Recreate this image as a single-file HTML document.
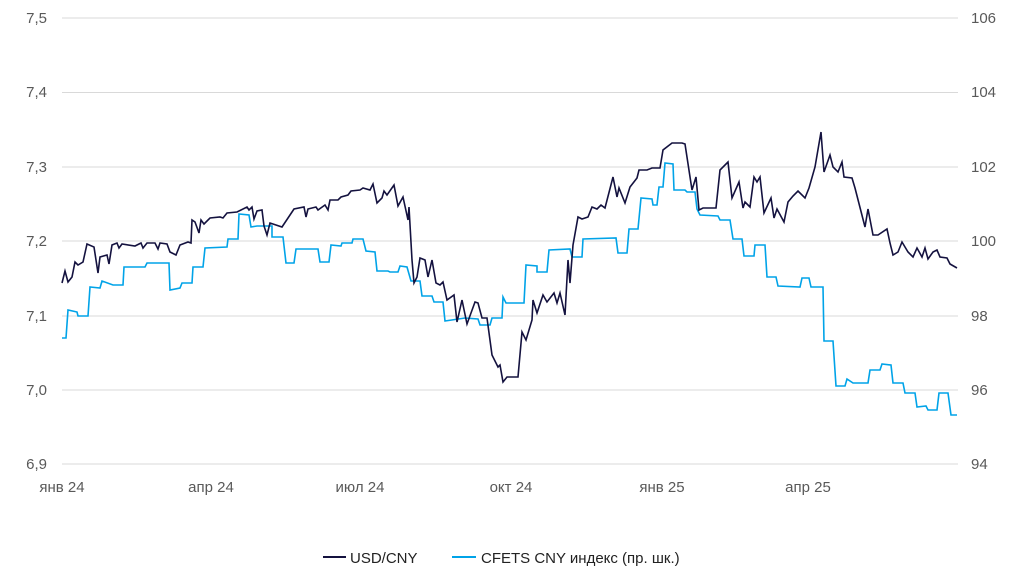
<!DOCTYPE html>
<html><head><meta charset="utf-8"><style>
body{margin:0;background:#fff;}
svg{display:block;font-family:"Liberation Sans",sans-serif;}
</style></head><body>
<svg width="1024" height="579" viewBox="0 0 1024 579">
<g stroke="#d9d9d9" stroke-width="1">
<line x1="62" x2="958" y1="18" y2="18"/><line x1="62" x2="958" y1="92.5" y2="92.5"/>
<line x1="62" x2="958" y1="167" y2="167"/><line x1="62" x2="958" y1="241" y2="241"/>
<line x1="62" x2="958" y1="316" y2="316"/><line x1="62" x2="958" y1="390" y2="390"/>
<line x1="62" x2="958" y1="464" y2="464"/>
</g>
<g fill="#595959" font-size="15">
<g text-anchor="end">
<text x="47" y="23">7,5</text><text x="47" y="97">7,4</text><text x="47" y="172">7,3</text>
<text x="47" y="246">7,2</text><text x="47" y="321">7,1</text><text x="47" y="395">7,0</text><text x="47" y="469">6,9</text>
</g>
<text x="971" y="23">106</text><text x="971" y="97">104</text><text x="971" y="172">102</text>
<text x="971" y="246">100</text><text x="971" y="321">98</text><text x="971" y="395">96</text><text x="971" y="469">94</text>
<g text-anchor="middle">
<text x="62" y="492">янв 24</text><text x="211" y="492">апр 24</text><text x="360" y="492">июл 24</text>
<text x="511" y="492">окт 24</text><text x="662" y="492">янв 25</text><text x="808" y="492">апр 25</text>
</g>
</g>
<polyline fill="none" stroke="#00a3e8" stroke-width="1.6" points="62,338 66,338 68,310 77,312 78,316 88,316 90,287 100,288 102,281 113,285 123,285 124,267 145,267 147,263 169,263 170,290 180,288 182,283 192,283 193,267 203,267 205,248 227,247 228,239 238,239 239,214 249,215 251,227 257,226 272,226 272,237 283,237 286,263 294,263 296,249 318,249 320,262 329,262 331,245 341,246 342,243 352,243 353,239 363,239 366,251 375,252 377,271 388,271 390,272 398,272 400,266 407,267 411,281 420,281 422,296 432,296 434,302 443,302 445,321 465,318 478,319 480,325 490,325 492,318 502,318 503,297 506,303 524,303 526,265 537,266 537,272 547,272 549,250 570,249 572,257 582,257 583,239 616,238 618,253 627,253 629,229 638,229 641,198 652,199 653,205 657,205 659,187 663,187 665,163 673,164 674,190 685,190 687,192 695,192 697,209 700,215 718,216 720,220 730,220 733,239 742,239 744,256 754,256 755,245 765,245 767,277 776,277 778,286 800,287 802,278 809,278 811,287 823,287 824,341 833,341 836,386 845,386 847,379 853,383 868,383 870,370 880,370 882,364 891,365 893,383 903,383 905,393 915,393 917,407 926,406 928,410 937,410 939,393 948,393 951,415 957,415"/>
<polyline fill="none" stroke="#14123f" stroke-width="1.6" points="62,283 65,271 68,282 72,277 75,262 78,265 83,262 87,244 94,247 98,273 100,257 107,255 109,264 112,245 117,243 119,248 122,244 135,246 141,243 143,248 147,243 155,243 158,249 160,243 167,244 170,252 176,255 180,245 188,242 191,243 192,220 195,222 199,233 201,220 204,224 210,218 220,217 223,218 227,213 237,212 247,207 249,210 252,207 254,219 257,211 262,210 264,226 267,235 270,223 273,224 282,227 294,209 304,207 306,217 308,209 316,207 318,210 325,205 328,210 330,200 338,200 341,197 348,195 351,191 360,190 363,188 370,190 373,184 377,203 382,198 384,191 387,195 394,185 398,206 403,197 408,220 409,207 412,260 414,283 417,277 420,258 425,260 428,277 432,260 436,283 440,285 443,282 447,300 454,295 457,322 462,300 467,324 475,302 478,303 482,318 487,318 492,355 498,367 500,365 503,382 507,377 518,377 522,332 526,340 532,320 533,300 537,313 543,295 547,302 554,293 557,303 560,293 565,315 568,260 570,283 573,245 578,217 582,219 588,217 592,207 597,209 601,205 605,208 613,177 617,197 619,188 625,203 630,187 637,178 639,170 647,170 652,168 660,168 663,150 672,143 682,143 685,144 692,190 696,177 699,210 703,208 716,208 720,170 728,162 732,198 739,182 743,208 745,202 750,207 754,177 757,182 760,177 764,213 771,198 774,218 777,209 784,222 788,202 793,196 798,191 805,198 809,188 815,167 821,132 824,172 830,155 833,167 838,172 842,162 844,177 852,178 855,188 865,227 868,209 873,235 878,235 887,229 890,243 893,255 898,252 902,242 908,252 913,257 917,248 922,257 925,248 928,259 933,252 937,250 940,257 947,258 950,264 957,268"/>
<line x1="323" x2="346" y1="557" y2="557" stroke="#14123f" stroke-width="2"/>
<text x="350" y="563" font-size="15" fill="#222">USD/CNY</text>
<line x1="452" x2="476" y1="557" y2="557" stroke="#00a3e8" stroke-width="2"/>
<text x="481" y="563" font-size="15" fill="#222">CFETS CNY индекс (пр. шк.)</text>
</svg>
</body></html>
